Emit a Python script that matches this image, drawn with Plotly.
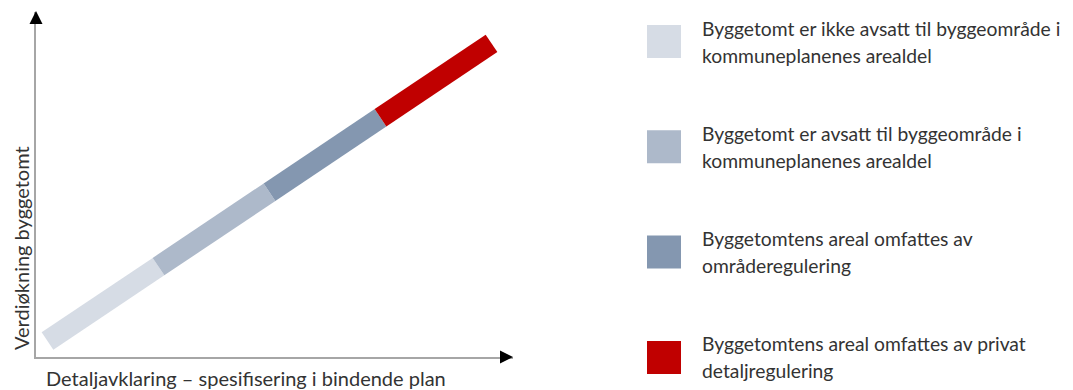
import plotly.graph_objects as go

# ---- data ----
stages = [0, 1, 2, 3, 4]            # degree of detail clarification (stage boundaries)
value_increase = [0, 1, 2, 3, 4]    # value increase of building plot
segment_colors = ["#D6DCE5", "#ADB9CA", "#8497B0", "#C00000"]
legend_line1 = [
    "Byggetomt er ikke avsatt til byggeområde i",
    "Byggetomt er avsatt til byggeområde i",
    "Byggetomtens areal omfattes av",
    "Byggetomtens areal omfattes av privat",
]
legend_line2 = [
    "kommuneplanenes arealdel",
    "kommuneplanenes arealdel",
    "områderegulering",
    "detaljregulering",
]
x_title = "Detaljavklaring – spesifisering i bindende plan"
y_title = "Verdiøkning byggetomt"

# ---- layout geometry (pixels, page coords minus the 8px body margin) ----
OFF = 8
W, H = 1073 - OFF, 390 - OFF
L, T = 36 - OFF, 12 - OFF
PW, PH = 477, 345
R = W - L - PW
B = H - T - PH
FONT = "Lato"
TXT = "#333333"


def pxx(px):
    """reference page pixel x -> paper x"""
    return (px - OFF - L) / PW


def pxy(py):
    """reference page pixel y -> paper y"""
    return (T + PH - (py - OFF)) / PH


fig = go.Figure()

for i, col in enumerate(segment_colors):
    fig.add_trace(go.Scatter(
        x=stages[i:i + 2], y=value_increase[i:i + 2], mode="lines",
        line=dict(color=col, width=21), hoverinfo="skip", showlegend=False,
    ))

shapes = []
annotations = []

# legend
for i, (l1, l2) in enumerate(zip(legend_line1, legend_line2)):
    cy = 41.5 + i * 105.3
    shapes.append(dict(type="rect", xref="paper", yref="paper",
                       x0=pxx(647), x1=pxx(681), y0=pxy(cy + 16.5), y1=pxy(cy - 16.5),
                       fillcolor=segment_colors[i], line=dict(width=0)))
    for text, dy in ((l1, -13.5), (l2, 13.5)):
        annotations.append(dict(xref="paper", yref="paper", x=pxx(700), y=pxy(cy + dy),
                                xanchor="left", yanchor="middle", text=text, showarrow=False,
                                font=dict(family=FONT, size=19.3, color=TXT)))

# axis titles
annotations.append(dict(xref="paper", yref="paper", x=pxx(44), y=pxy(378),
                        xanchor="left", yanchor="middle", text=x_title, showarrow=False,
                        font=dict(family=FONT, size=20, color=TXT)))
annotations.append(dict(xref="paper", yref="paper", x=pxx(21), y=pxy(248),
                        xanchor="center", yanchor="middle", text=y_title, showarrow=False,
                        textangle=-90, font=dict(family=FONT, size=20, color=TXT)))

# arrowheads
annotations.append(dict(xref="paper", yref="paper", x=pxx(513), y=0, ax=-7, ay=0,
                        showarrow=True, arrowhead=2, arrowsize=1.3, arrowwidth=2,
                        arrowcolor="#000000", standoff=0, text=""))
annotations.append(dict(xref="paper", yref="paper", x=0, y=pxy(11), ax=0, ay=7,
                        showarrow=True, arrowhead=2, arrowsize=1.3, arrowwidth=2,
                        arrowcolor="#000000", standoff=0, text=""))

axis_common = dict(showgrid=False, zeroline=False, showticklabels=False, ticks="",
                   showline=True, linecolor="#A6A6A6", linewidth=1.5, mirror=False,
                   fixedrange=True)
fig.update_layout(
    width=W, height=H,
    margin=dict(l=L, r=R, t=T, b=B),
    paper_bgcolor="white", plot_bgcolor="white",
    xaxis=dict(range=[-0.1036, -0.1036 + PW / 111.0], **axis_common),
    yaxis=dict(range=[-0.215, -0.215 + PH / 74.4], **axis_common),
    shapes=shapes, annotations=annotations, showlegend=False,
)

fig.write_html("out.html")
